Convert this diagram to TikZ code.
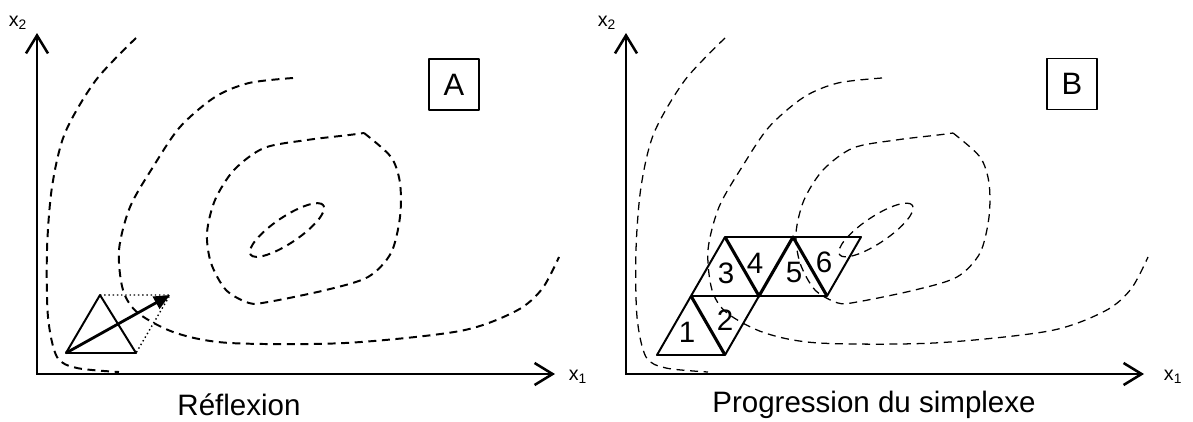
\documentclass[tikz,border=0pt]{standalone}
\usepackage{fontspec}
\setmainfont{Liberation Sans}
\usetikzlibrary{arrows.meta}
\tikzset{axe/.style={line width=1.8pt,line join=miter,{Straight Barb[length=0.45cm,width=0.55cm]}-{Straight Barb[length=0.45cm,width=0.55cm]}},
  niveau/.style={dash pattern=on 0.2cm off 0.14cm},
  titre/.style={font=\fontsize{21}{25}\selectfont,inner sep=0pt},
  repere/.style={draw,line width=1.2pt,minimum width=1.25cm,minimum height=1.275cm,inner sep=0pt,font=\fontsize{22}{26}\selectfont},
  petit/.style={font=\fontsize{14}{16}\selectfont,inner sep=0pt}}
\newcommand{\isolignes}[1]{%
\begin{scope}[niveau,line width=#1]
\draw plot[smooth] coordinates {(3.4,9.575) (2.4,8.525) (1.625,7.2) (1.3,5.85) (1.175,4.275) (1.2,2.6) (1.425,1.6) (1.925,1.325) (2.975,1.225)};
\draw plot[smooth] coordinates {(7.325,8.575) (6.225,8.45) (5.375,8.1) (4.5,7.35) (3.825,6.35) (3.25,5.35) (2.975,4.275) (3.075,3.275) (3.45,2.7) (4.4,2.2) (5.75,1.95) (8.625,1.95) (11.5,2.25) (12.9,2.75) (13.55,3.3) (13.975,4.1)};
\draw plot[smooth] coordinates {(9.1,7.2) (9.775,6.6) (10.0,5.95) (10.0,5.1) (9.775,4.2) (9.2,3.6) (8.15,3.275) (6.7,2.975) (6.225,2.95) (5.65,3.275) (5.275,3.95) (5.175,4.7) (5.375,5.525) (5.85,6.275) (6.6,6.825) (7.675,7.025) (8.725,7.15) (9.1,7.2)};
\draw (7.175,4.775) circle [x radius=1.1,y radius=0.325,rotate=34];
\end{scope}}

\begin{document}
\begin{tikzpicture}[line join=round]
\useasboundingbox (0,0) rectangle (29.825,10.525);
% --- A : reflexion
\begin{scope}
\isolignes{1.4pt}
\coordinate (oA) at (0.925,1.175); \coordinate (yA) at (0.925,9.7); \coordinate (xA) at (13.875,1.175);
\draw[axe] (yA) -- (oA) -- (xA);
\node[petit] (x2A) at (0.45,9.95) {x\textsubscript{2}};
\node[petit] (x1A) at (14.45,1.1) {x\textsubscript{1}};
\node[repere] (boxA) at (11.35,8.41) {A};
\node[titre] (titreA) at (5.975,0.4) {Réflexion};
\coordinate (a1) at (1.65,1.7); \coordinate (a2) at (3.4,1.7); \coordinate (a3) at (2.5,3.15); \coordinate (a4) at (4.25,3.15);
\draw[line width=1.4pt] (a1) -- (a2) -- (a3) -- cycle;
\draw[dotted,line width=1pt] (a3) -- (a4) -- (a2);
\draw[line width=2pt,-{Triangle[length=0.4cm,width=0.34cm]}] (a1) -- (a4);
\end{scope}
% --- B : progression du simplexe
\begin{scope}[xshift=14.725cm]
\isolignes{0.9pt}
\coordinate (oB) at (0.925,1.175); \coordinate (yB) at (0.925,9.7); \coordinate (xB) at (13.875,1.175);
\draw[axe] (yB) -- (oB) -- (xB);
\node[petit] (x2B) at (0.45,9.95) {x\textsubscript{2}};
\node[petit] (x1B) at (14.6,1.1) {x\textsubscript{1}};
\node[repere] (boxB) at (12.075,8.425) {B};
\node[titre] (titreB) at (7.125,0.4) {Progression du simplexe};
\coordinate (p1) at (1.7,1.65); \coordinate (p2) at (3.4,1.65); \coordinate (p3) at (2.55,3.125); \coordinate (p4) at (4.25,3.125);
\coordinate (p5) at (3.4,4.6); \coordinate (p6) at (5.1,4.6); \coordinate (p7) at (5.95,3.125); \coordinate (p8) at (6.8,4.6);
\draw[line width=1.4pt] (p3) -- (p1) -- (p2) -- (p4) -- (p3) -- (p5) -- (p6) -- (p8) -- (p7) -- (p4);
\draw[line width=2.2pt] (p2) -- (p3) (p5) -- (p4) -- (p6) -- (p7);
\foreach \n/\x/\y in {1/2.45/2.225, 2/3.4/2.525, 3/3.425/3.7, 4/4.15/3.95, 5/5.125/3.725, 6/5.875/3.975}
  \node[titre] (n\n) at (\x,\y) {\n};
\end{scope}
\end{tikzpicture}
\end{document}
